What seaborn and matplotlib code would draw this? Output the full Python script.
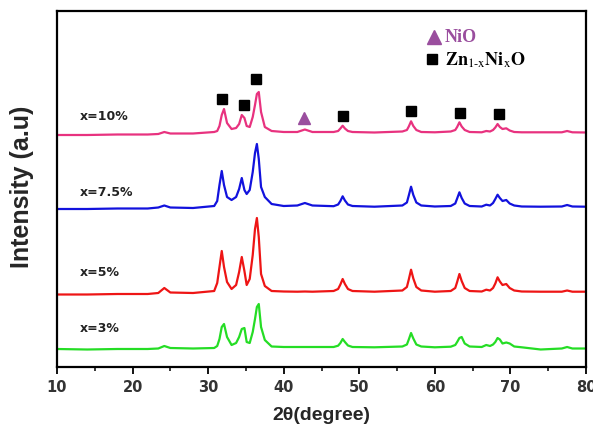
import matplotlib
matplotlib.use("Agg")
import matplotlib.pyplot as plt
import seaborn as sns
import pandas as pd
from matplotlib.ticker import MultipleLocator

# 2-theta sample points (degrees), shared by all patterns
two_theta = [10, 14, 18, 22, 23.4, 24.2, 25.0, 28,
             30.8, 31.2, 31.5, 31.8, 32.1, 32.5, 33.1, 33.7, 34.1, 34.45, 34.8, 35.1,
             35.5, 35.9, 36.2, 36.45, 36.7, 37.0, 37.5, 38.4,
             40, 41.8, 42.8, 43.8,
             46.6, 47.2, 47.5, 47.8, 48.1, 48.5, 49.1,
             52,
             55.7, 56.3, 56.55, 56.85, 57.15, 57.55, 58.2,
             60,
             62.1, 62.7, 62.95, 63.25, 63.55, 63.95, 64.6,
             66.2, 66.8, 67.3, 67.7, 68.0, 68.3, 68.6, 68.95, 69.45, 69.9, 70.5, 71.5,
             74, 76.8, 77.5, 78.2, 80]

# Intensities (a.u., stacked with vertical offsets as in the figure)
int_10 = [232, 232, 232.5, 232.5, 233, 235, 233.5, 233.5,
          235, 236, 241, 252, 258, 244, 238, 239, 243, 252, 249, 241,
          240, 250, 262, 273, 275, 255, 240, 236,
          235, 235, 237.5, 235,
          235, 236, 238.5, 241.3, 238.5, 236, 235,
          234.5,
          235.5, 237, 240.5, 245.7, 241, 237, 235,
          234.7,
          235.5, 237, 240, 244.7, 240.5, 237, 235,
          234.7, 236, 235.5, 237, 239.5, 243, 240, 238, 238.7, 236.5, 235, 234.7,
          234.7, 234.7, 236, 234.7, 234.5]
int_75 = [158, 158, 158.5, 158.5, 159.5, 161.5, 159.5, 159,
          161, 166, 182, 196, 182, 170, 167, 170, 178, 189, 177, 173,
          177, 195, 214, 223, 208, 180, 170, 163,
          161, 161.5, 164, 161.5,
          160.8, 162.5, 166, 170.7, 166.5, 162.5, 161,
          160.3,
          161.5, 164.5, 171.5, 180.3, 172, 164.5, 161.5,
          160.5,
          161, 163.5, 168.5, 174.7, 169, 163.5, 161,
          160.5, 162.3, 161.5, 164, 168, 172.3, 169, 166, 167, 163.5, 161.5, 160.5,
          160.3, 160.5, 162, 160.5, 160.3]
int_5 = [72.5, 72.5, 73, 73, 74, 79, 74.5, 74,
         76, 84, 100, 116, 100, 85, 78, 82, 95, 110, 96, 82,
         88, 112, 138, 149, 130, 93, 81, 76,
         75.5, 75.3, 75.5, 75.3,
         76, 78, 82.5, 88, 83, 78, 76,
         75.3,
         76.5, 80, 87.5, 97.3, 88.5, 80, 76.5,
         75.3,
         76, 79, 85, 93, 86, 79, 76,
         75.5, 77.3, 76.5, 79, 83.5, 89.7, 85.5, 82, 83, 79, 76.5, 75.5,
         75.3, 75.3, 76.5, 75.3, 75.3]
int_3 = [18, 17.5, 18, 18, 18.5, 21, 19, 18.5,
         19, 21, 28, 40, 43, 30, 22, 24, 30, 38, 39, 25,
         24, 35, 48, 60, 63, 40, 27, 20.5,
         20, 20, 20, 20,
         20, 21.3, 24, 28, 25, 21.5, 20,
         19.7,
         20.5, 22.5, 27.5, 34, 28.5, 22.5, 20.5,
         19.7,
         20.3, 22, 25, 29, 30, 23.5, 20.5,
         20, 22, 21, 22.5, 25, 29, 27.5, 23.5, 24.5, 23.5, 20.5, 19.7,
         17.5, 18.5, 20, 18.5, 18.5]

series_names = ["x=10%", "x=7.5%", "x=5%", "x=3%"]
series_colors = ["#E8327F", "#1212DD", "#EE1515", "#25DD25"]
label_x = [13.0, 13.0, 13.0, 13.0]
label_y = [252, 176, 96, 39]

# Phase markers
zno_pos = [31.8, 34.7, 36.3, 47.9, 56.9, 63.3, 68.5]
zno_int = [268, 262, 288, 251, 256, 254, 253]
nio_pos = [42.7]
nio_int = [249]

rows = []
for name, ys in zip(series_names, [int_10, int_75, int_5, int_3]):
    for t, y in zip(two_theta, ys):
        rows.append({"two_theta": t, "intensity": y, "sample": name})
df = pd.DataFrame(rows)

sns.set_theme(style="ticks")
plt.rcParams["font.family"] = ["DejaVu Sans"]
plt.rcParams["mathtext.fontset"] = "stix"

fig = plt.figure(figsize=(5.93, 4.27), dpi=100)
ax = fig.add_axes([57 / 593, 59 / 427, 529 / 593, 356 / 427])

sns.lineplot(data=df, x="two_theta", y="intensity", hue="sample",
             hue_order=series_names, palette=series_colors, linewidth=1.6,
             legend=False, ax=ax, sort=False)

for name, lx, ly in zip(series_names, label_x, label_y):
    ax.text(lx, ly, name, fontsize=9, fontweight="bold", color="#222222",
            ha="left", va="center")

ax.plot(zno_pos, zno_int, ls="none", marker="s", ms=7.5, color="black")
ax.plot(nio_pos, nio_int, ls="none", marker="^", ms=9, color="#9A4E9E")

# legend-like annotation
ax.plot([59.9], [330], ls="none", marker="^", ms=10, color="#9A4E9E")
ax.text(61.3, 330, "NiO", fontsize=13, fontweight="bold", color="#9A4E9E",
        family="Liberation Serif", ha="left", va="center")
ax.plot([59.6], [308], ls="none", marker="s", ms=7.5, color="black")
ax.text(61.3, 308, r"$\mathbf{Zn}_{\mathrm{1\text{-}x}}\mathbf{Ni}_{\mathrm{x}}\mathbf{O}$",
        fontsize=13, color="black", ha="left", va="center")

ax.set_xlim(10, 80)
ax.set_ylim(0, 356)
ax.set_yticks([])
ax.xaxis.set_major_locator(MultipleLocator(10))
ax.xaxis.set_minor_locator(MultipleLocator(5))
ax.tick_params(axis="x", which="major", direction="out", length=5, width=1.3,
               labelsize=10.5, colors="black")
ax.tick_params(axis="x", which="minor", direction="out", length=3, width=1.3)
for lab in ax.get_xticklabels():
    lab.set_fontweight("bold")
    lab.set_color("#333333")
for sp in ax.spines.values():
    sp.set_visible(True)
    sp.set_linewidth(1.6)
    sp.set_color("black")

ax.set_xlabel("2θ(degree)", fontsize=14, fontweight="bold",
              family="Liberation Sans", va="center")
ax.xaxis.set_label_coords(0.5, -0.133)
ax.set_ylabel("Intensity (a.u)", fontsize=18, fontweight="bold",
              family="Liberation Sans", va="center")
ax.yaxis.set_label_coords(-0.066, 0.51)

fig.savefig("out.png", dpi=100)
